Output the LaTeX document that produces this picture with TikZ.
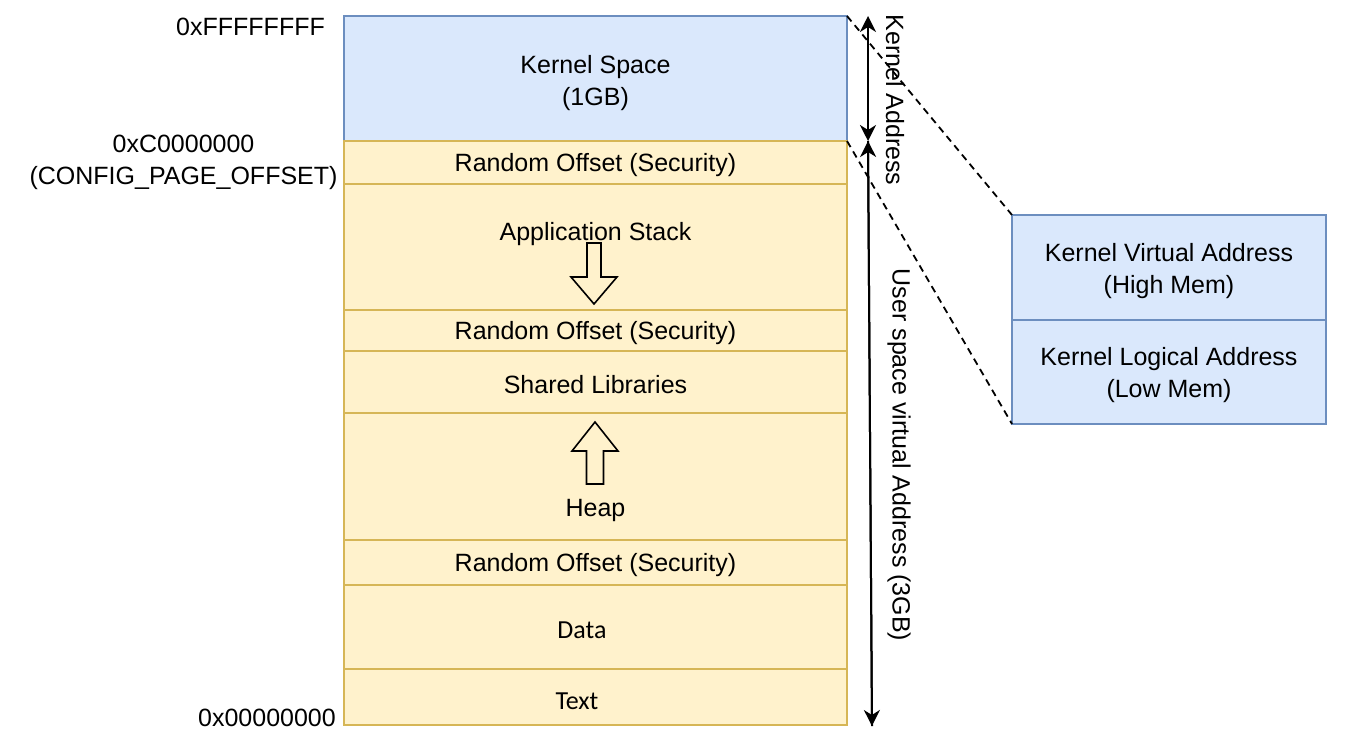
\documentclass[tikz,border=0pt]{standalone}
\usepackage{fontspec}
\setmainfont{Liberation Sans}
\newfontfamily\calib{Carlito}
\usetikzlibrary{arrows.meta,calc}
\definecolor{bfill}{HTML}{DAE8FC}
\definecolor{bline}{HTML}{6C8EBF}
\definecolor{yfill}{HTML}{FFF2CC}
\definecolor{yline}{HTML}{D6B656}
\tikzset{
  seg/.style={draw=yline, fill=yfill, line width=2pt, inner sep=0pt, outer sep=0pt, minimum width=503pt},
  kseg/.style={draw=bline, fill=bfill, line width=2pt, inner sep=0pt, outer sep=0pt},
  lbl/.style={inner sep=0pt, align=center},
  cal/.style={lbl, font=\calib\fontsize{26}{32}\selectfont},
  dim/.style={line width=2pt, {Stealth[length=16pt,width=16pt,inset=5pt]}-{Stealth[length=16pt,width=16pt,inset=5pt]}},
  dimone/.style={line width=2pt, -{Stealth[length=16pt,width=16pt,inset=5pt]}},
  guide/.style={line width=1.8pt, dash pattern=on 7pt off 5pt},
  hollow/.style={draw=black, fill=yfill, line width=1.6pt, line join=miter}
}
\begin{document}
\begin{tikzpicture}[x=1pt,y=-1pt, font=\fontsize{25}{32}\selectfont]
\useasboundingbox (0,0) rectangle (1349,733);
% main column
\node[kseg, minimum width=503pt, minimum height=125pt] (kernel) at (595.5,78.5) {};
\node[lbl] (kerneltxt) at (595.5,83) {Kernel Space\\(1GB)};
\node[seg, minimum height=43pt] (ro1) at (595.5,162.5) {};
\node[lbl] (ro1txt) at (595.5,165) {Random Offset (Security)};
\node[seg, minimum height=126pt] (stack) at (595.5,247) {};
\node[lbl] (stacktxt) at (595.5,234) {Application Stack};
\node[seg, minimum height=41pt] (ro2) at (595.5,330.5) {};
\node[lbl] (ro2txt) at (595.5,333) {Random Offset (Security)};
\node[seg, minimum height=62pt] (shlib) at (595.5,382) {};
\node[lbl] (shlibtxt) at (595.5,385) {Shared Libraries};
\node[seg, minimum height=127pt] (heap) at (595.5,476.5) {};
\node[lbl] (heaptxt) at (595.5,510) {Heap};
\node[seg, minimum height=45pt] (ro3) at (595.5,562.5) {};
\node[lbl] (ro3txt) at (595.5,565) {Random Offset (Security)};
\node[seg, minimum height=84pt] (data) at (595.5,627) {};
\node[cal] (datatxt) at (582,630) {Data};
\node[seg, minimum height=56pt] (text) at (595.5,697) {};
\node[cal] (texttxt) at (577,701) {Text};
% hollow arrows
\draw[hollow] (587,243) -- (601,243) -- (601,277) -- (617,277) -- (594,304) -- (571,277) -- (587,277) -- cycle;
\draw[hollow] (586.5,484) -- (603.5,484) -- (603.5,451) -- (618,451) -- (595,422) -- (572,451) -- (586.5,451) -- cycle;
% left labels
\node[lbl, anchor=east] (ftop) at (325,27) {0xFFFFFFFF};
\node[lbl] (cpo) at (183.5,162) {0xC0000000\\(CONFIG\_PAGE\_OFFSET)};
\node[lbl, anchor=east] (zero) at (336,718) {0x00000000};
% right boxes
\node[kseg, minimum width=314pt, minimum height=105pt] (kv) at (1169,267.5) {};
\node[lbl] (kvtxt) at (1169,271) {Kernel Virtual Address\\(High Mem)};
\node[kseg, minimum width=314pt, minimum height=104pt] (kl) at (1169,372) {};
\node[lbl] (kltxt) at (1169,375) {Kernel Logical Address\\(Low Mem)};
% dashed guides
\draw[guide] (kernel.north east) -- (kv.north west);
\draw[guide] (kernel.south east) -- (kl.south west);
% dimension arrows
\coordinate (ka) at (868,16);
\coordinate (kb) at (868,141);
\coordinate (ua) at (868,141);
\coordinate (ub) at (872,726);
\draw[dim] (ka) -- (kb);
\draw[dimone] (ub) -- (ua);
\draw[dimone] (ua) -- (ub);
\node[lbl, rotate=-90] (kaddr) at (895,100) {Kernel Address};
\node[lbl, rotate=-90] (uaddr) at (899,455) {User space virtual Address (3GB)};
\end{tikzpicture}
\end{document}
